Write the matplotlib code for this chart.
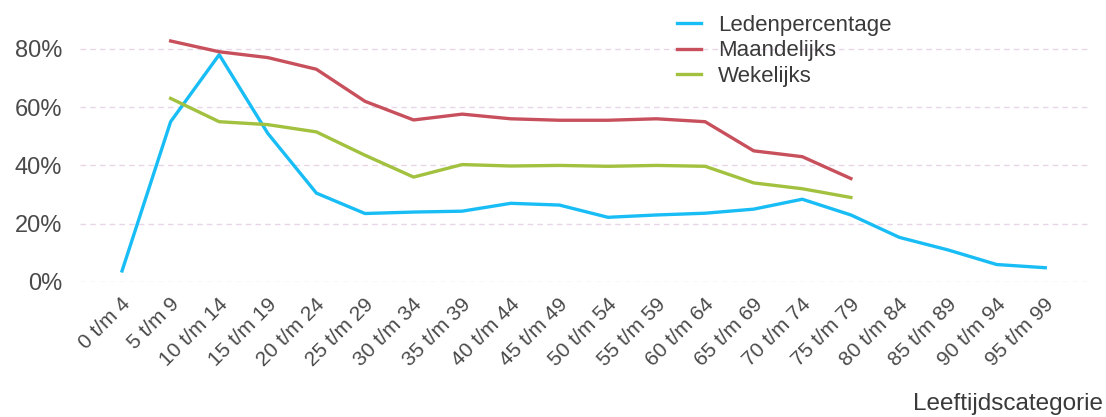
import matplotlib.pyplot as plt
import matplotlib.transforms as mtransforms
from matplotlib.ticker import PercentFormatter

categories = ["0 t/m 4", "5 t/m 9", "10 t/m 14", "15 t/m 19", "20 t/m 24",
              "25 t/m 29", "30 t/m 34", "35 t/m 39", "40 t/m 44", "45 t/m 49",
              "50 t/m 54", "55 t/m 59", "60 t/m 64", "65 t/m 69", "70 t/m 74",
              "75 t/m 79", "80 t/m 84", "85 t/m 89", "90 t/m 94", "95 t/m 99"]

ledenpercentage = [3.8, 55, 78, 51, 30.5, 23.5, 24, 24.3, 27, 26.4,
                   22.2, 23, 23.6, 25, 28.4, 23, 15.3, 11, 6, 4.9]
# maandelijks / wekelijks start at "5 t/m 9" and stop at "75 t/m 79"
maandelijks = [82.7, 79, 77, 73, 62, 55.6, 57.6, 56, 55.5, 55.5,
               56, 55, 45, 43, 35.5]
wekelijks = [63, 55, 54, 51.5, 43.5, 36, 40.3, 39.8, 40, 39.7,
             40, 39.7, 34, 32, 29]

plt.rcParams['font.family'] = ['Liberation Sans', 'DejaVu Sans']

fig = plt.figure(figsize=(11.06, 4.17), dpi=100)
W, H = 1106, 417
ax = fig.add_axes([80 / W, 1 - 282 / H, (1088 - 80) / W, (282 - 20) / H])

x_all = list(range(len(categories)))
x_sub = x_all[1:1 + len(maandelijks)]

ax.plot(x_all, ledenpercentage, color='#19BDF5', lw=2.4, label='Ledenpercentage',
        clip_on=False, solid_joinstyle='round')
ax.plot(x_sub, maandelijks, color='#C8505C', lw=2.4, label='Maandelijks',
        clip_on=False, solid_joinstyle='round')
ax.plot(x_sub, wekelijks, color='#A2C13E', lw=2.4, label='Wekelijks',
        clip_on=False, solid_joinstyle='round')

ax.set_xlim(-0.865, 19.88)
ax.set_ylim(0, 89.9)
ax.set_yticks([0, 20, 40, 60, 80])
ax.yaxis.set_major_formatter(PercentFormatter(decimals=0))
ax.grid(axis='y', color='#E6D6E6', ls=(0, (4, 3)), lw=1)
ax.set_axisbelow(True)
for s in ax.spines.values():
    s.set_visible(False)
ax.tick_params(length=0, colors='#4a4a4a')
ax.tick_params(axis='y', pad=13, labelsize=17)
ax.tick_params(axis='x', pad=9, labelsize=15)

ax.set_xticks(x_all)
ax.set_xticklabels(categories, rotation=45, ha='right', rotation_mode='anchor')
offset = mtransforms.ScaledTranslation(-1 / 100, 0, fig.dpi_scale_trans)
for lab in ax.get_xticklabels():
    lab.set_transform(lab.get_transform() + offset)

fig.text(1103 / W, 1 - 404 / H, 'Leeftijdscategorie', ha='right', va='center',
         fontsize=17.5, color='#3a3a3a')

ax.legend(loc='upper left', bbox_to_anchor=(668 / W, 1 - 6 / H),
          bbox_transform=fig.transFigure, frameon=False, fontsize=16,
          handlelength=1.1, handletextpad=0.75, labelspacing=0.2,
          labelcolor='#3a3a3a', borderaxespad=0)

fig.savefig('out.png', dpi=100)
